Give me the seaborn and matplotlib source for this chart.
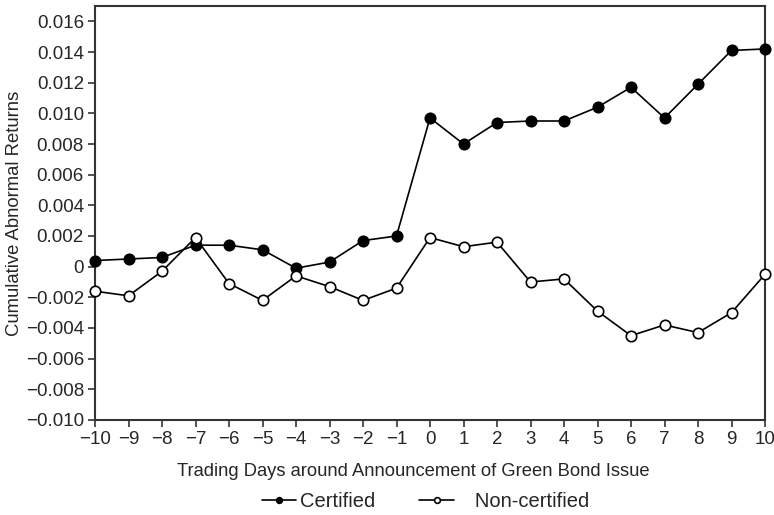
import pandas as pd
import seaborn as sns
import matplotlib.pyplot as plt

days = list(range(-10, 11))
certified = [0.0004, 0.0005, 0.0006, 0.0014, 0.0014, 0.0011, -0.0001, 0.0003,
             0.0017, 0.0020, 0.0097, 0.0080, 0.0094, 0.0095, 0.0095, 0.0104,
             0.0117, 0.0097, 0.0119, 0.0141, 0.0142]
non_certified = [-0.0016, -0.0019, -0.0003, 0.0019, -0.0011, -0.0022, -0.0006,
                 -0.0013, -0.0022, -0.0014, 0.0019, 0.0013, 0.0016, -0.0010,
                 -0.0008, -0.0029, -0.0045, -0.0038, -0.0043, -0.0030, -0.0005]
y_ticks = [-0.010, -0.008, -0.006, -0.004, -0.002, 0, 0.002, 0.004, 0.006,
           0.008, 0.010, 0.012, 0.014, 0.016]
y_tick_labels = ["\u22120.010", "\u22120.008", "\u22120.006", "\u22120.004",
                 "\u22120.002", "0", "0.002", "0.004", "0.006", "0.008",
                 "0.010", "0.012", "0.014", "0.016"]

df = pd.DataFrame({"day": days + days,
                   "car": certified + non_certified,
                   "group": ["Certified"] * len(days) + ["Non-certified"] * len(days)})

sns.set_style("ticks")
plt.rcParams["font.family"] = ["Liberation Sans", "DejaVu Sans"]

fig = plt.figure(figsize=(7.74, 5.15), dpi=100)
ax = fig.add_axes([95 / 774, 95 / 515, 670 / 774, 414 / 515])

# (marker face, legend label) - extra spaces reproduce the wider gap in the legend
styles = {"Certified": ("black", "Certified"),
          "Non-certified": ("white", "   Non-certified")}
for name, (face, lab) in styles.items():
    sub = df[df["group"] == name]
    sns.lineplot(data=sub, x="day", y="car", ax=ax, color="black", linewidth=1.2,
                 marker="o", markersize=7.5, markerfacecolor=face,
                 markeredgecolor="black", markeredgewidth=1.2, label=lab,
                 clip_on=False, zorder=3)

ax.set_xlim(-10, 10)
ax.set_ylim(-0.010, 0.017)
ax.set_xticks(days)
ax.set_xticklabels([str(d).replace("-", "\u2212") for d in days])
ax.set_yticks(y_ticks)
ax.set_yticklabels(y_tick_labels)
ax.tick_params(labelsize=13.5, length=5, width=1.2, color="#333333", pad=3)
for s in ax.spines.values():
    s.set_visible(True)
    s.set_linewidth(1.5)
    s.set_color("#333333")

ax.set_xlabel("Trading Days around Announcement of Green Bond Issue", fontsize=13.2)
ax.xaxis.set_label_coords(0.475, -0.103)
ax.set_ylabel("Cumulative Abnormal Returns", fontsize=13.3, labelpad=2)

ax.legend(loc="upper center", bbox_to_anchor=(0.493, -0.13), ncol=2, frameon=False,
          fontsize=14.5, markerscale=0.55, handlelength=1.7, handletextpad=0.2,
          columnspacing=2.2)

fig.savefig("out.png", dpi=100)
